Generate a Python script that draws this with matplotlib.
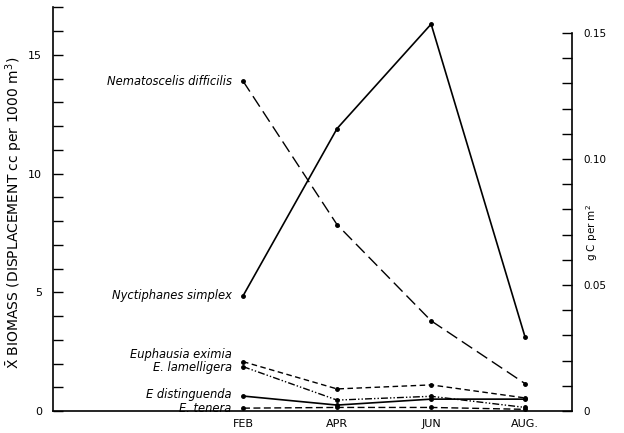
import matplotlib
matplotlib.use("Agg")
import matplotlib.pyplot as plt
from matplotlib.ticker import MultipleLocator, FixedLocator, FixedFormatter

plt.rcParams['font.family'] = ['DejaVu Sans']

months = ["FEB", "APR", "JUN", "AUG."]
nyctiphanes = [4.85, 11.9, 16.3, 3.1]
nematoscelis = [13.9, 7.85, 3.8, 1.15]
eximia = [2.08, 0.93, 1.10, 0.55]
lamelligera = [1.87, 0.46, 0.62, 0.15]
distinguenda = [0.63, 0.25, 0.50, 0.50]
tenera = [0.12, 0.15, 0.15, 0.07]

series = [
    ("Nematoscelis difficilis", nematoscelis, (0, (9, 4)), 1.0, 0),
    ("Nyctiphanes simplex", nyctiphanes, "-", 1.2, 0),
    ("Euphausia eximia", eximia, (0, (4, 2.5)), 1.0, 0.3),
    ("E. lamelligera", lamelligera, (0, (5, 1.5, 1, 1.5, 1, 1.5)), 1.0, -0.05),
    ("E distinguenda", distinguenda, "-", 1.2, 0.05),
    ("E. tenera", tenera, (0, (5, 2.5)), 1.0, 0.0),
]

fig = plt.figure(figsize=(6.24, 4.33), dpi=100)
ax = fig.add_axes([0.085, 0.0508, 0.832, 0.9330])
x = list(range(len(months)))

for name, vals, ls, lw, dy in series:
    ax.plot(x, vals, linestyle=ls, color="black", lw=lw, marker="o", ms=2.5)
    ax.text(-0.12, vals[0] + dy, name, ha="right", va="center", fontsize=8.3,
            style="italic")

ax.set_xlim(-2.02, 3.5)
ax.set_ylim(0, 17.02)
ax.spines["top"].set_visible(False)
ax.spines["right"].set_visible(False)
ax.set_xticks(x)
ax.set_xticklabels(months, fontsize=8)
ax.tick_params(axis="x", length=0, pad=6)
ax.yaxis.set_major_locator(FixedLocator([0, 5, 10, 15]))
ax.yaxis.set_minor_locator(MultipleLocator(1))
ax.tick_params(axis="y", which="both", direction="in", length=7, width=1,
               labelsize=8, pad=8)
fig.text(14 / 624, 1 - 213 / 433,
         r"$\bar{\mathrm{X}}$ BIOMASS (DISPLACEMENT cc per 1000 m$^3$)",
         rotation=90, ha="center", va="center", fontsize=10)
for s in ax.spines.values():
    s.set_linewidth(1.2)

ax2 = ax.twinx()
ax2.set_ylim(0, 0.1603)
ax2.spines["top"].set_visible(False)
ax2.spines["left"].set_visible(False)
ax2.spines["bottom"].set_visible(False)
ax2.spines["right"].set_bounds(0, 0.15)
ax2.spines["right"].set_linewidth(1.2)
ax2.yaxis.set_major_locator(FixedLocator([0, 0.05, 0.10, 0.15]))
ax2.yaxis.set_major_formatter(FixedFormatter(["0", "0.05", "0.10", "0.15"]))
ax2.yaxis.set_minor_locator(FixedLocator([i / 100 for i in range(16)]))
ax2.tick_params(axis="y", which="both", direction="in", length=7, width=1,
                labelsize=7.5, pad=8)
fig.text(592 / 624, 1 - 232 / 433, "g C per m$^2$", rotation=90,
         ha="center", va="center", fontsize=7.5)

fig.savefig("out.png", dpi=100)
